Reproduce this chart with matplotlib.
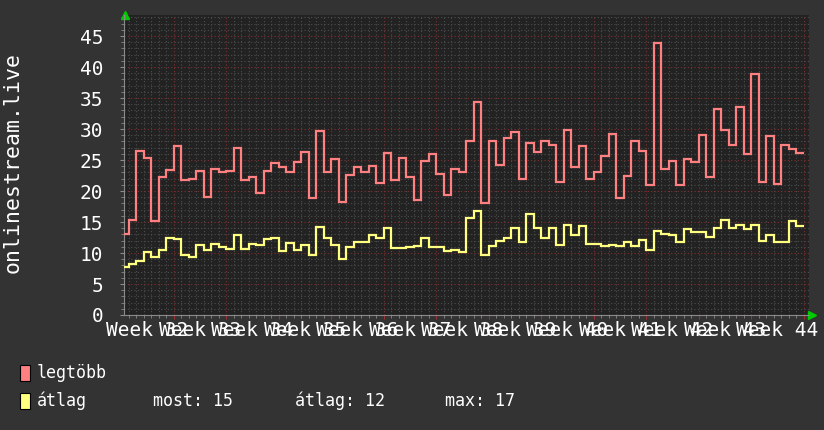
import numpy as np
import matplotlib
matplotlib.use("Agg")
import matplotlib.pyplot as plt
from matplotlib.ticker import MultipleLocator, FixedLocator

# daily values, first one is a partial day at the left edge
legtobb = [13.0, 15.4, 26.5, 25.4, 15.2, 22.2, 23.4, 27.3, 21.7, 22.0, 23.3, 19.1, 23.6, 23.0, 23.2, 27.0,
           21.7, 22.3, 19.7, 23.3, 24.6, 23.8, 23.0, 24.7, 26.3, 18.9, 29.7, 23.1, 25.2, 18.3, 22.6, 23.8,
           23.0, 24.1, 21.3, 26.2, 21.8, 25.4, 22.3, 18.5, 24.9, 25.9, 22.8, 19.4, 23.6, 23.0, 28.1,
           34.4, 18.1, 28.0, 24.2, 28.6, 29.6, 21.9, 27.8, 26.3, 28.0, 27.5, 21.5, 29.8, 23.9, 27.3,
           21.9, 23.1, 25.7, 29.2, 18.9, 22.4, 28.0, 26.5, 21.0, 43.9, 23.6, 24.9, 21.0, 25.1, 24.7,
           29.1, 22.2, 33.3, 29.9, 27.5, 33.6, 25.9, 38.9, 21.4, 28.8, 21.2, 27.5, 26.8, 26.2]
atlag = [7.8, 8.2, 8.7, 10.1, 9.4, 10.5, 12.5, 12.3, 9.7, 9.4, 11.3, 10.5, 11.5, 11.0, 10.7, 12.9,
         10.6, 11.5, 11.3, 12.2, 12.4, 10.3, 11.6, 10.5, 11.3, 9.6, 14.2, 12.4, 11.3, 9.0, 10.9, 11.7,
         11.8, 12.9, 12.4, 14.1, 10.8, 10.8, 11.0, 11.2, 12.5, 10.9, 11.0, 10.3, 10.5, 10.2, 15.7,
         16.7, 9.7, 11.2, 12.0, 12.4, 14.1, 11.7, 16.3, 14.1, 12.4, 14.0, 11.3, 14.5, 12.9, 14.4,
         11.4, 11.4, 11.2, 11.3, 11.2, 11.7, 11.2, 12.1, 10.5, 13.5, 13.1, 12.9, 11.8, 13.8, 13.4,
         13.4, 12.6, 14.1, 15.4, 14.1, 14.5, 13.8, 14.6, 12.0, 12.9, 11.7, 11.7, 15.1, 14.4]
weeks = list(range(32, 45))
y_label = "onlinestream.live"
legend_rows = [("legtöbb", ""), ("átlag", "")]
stats = {"most": 15, "átlag": 12, "max": 17}

RED = "#ff8080"
YEL = "#ffff80"
BACK = "#333333"
CANVAS = "#222222"
MONO = "DejaVu Sans Mono"

fig = plt.figure(figsize=(8.24, 4.30), dpi=100, facecolor=BACK)
ax = fig.add_axes([124 / 824, 115 / 430, 685 / 824, 300 / 430], facecolor=CANVAS)

n = len(legtobb)
edges = np.concatenate([[-0.6], np.arange(n)])
ax.stairs(legtobb, edges, baseline=None, color=RED, lw=1.6, zorder=3)
ax.stairs(atlag, edges, baseline=None, color=YEL, lw=1.6, zorder=3)

ax.set_xlim(-0.6, 90.73)
ax.set_ylim(0, 48.4)

week_lines = [6 + 7 * k for k in range(len(weeks))]
ax.xaxis.set_major_locator(FixedLocator(week_lines))
ax.xaxis.set_minor_locator(MultipleLocator(1))
ax.yaxis.set_major_locator(MultipleLocator(5))
ax.yaxis.set_minor_locator(MultipleLocator(1))
ax.set_xticklabels([])

ax.grid(which="minor", color="#4e4e4e", linestyle=(0, (1, 2)), lw=0.8)
ax.grid(which="major", color="#803030", linestyle=(0, (1, 2)), lw=0.8)
ax.set_axisbelow(True)

for s in ["top", "right"]:
    ax.spines[s].set_visible(False)
for s in ["left", "bottom"]:
    ax.spines[s].set_color("#8a8a8a")
    ax.spines[s].set_linewidth(0.8)

ax.tick_params(axis="y", which="major", colors="#8a8a8a", length=3, pad=12,
               labelcolor="white", labelsize=14)
ax.tick_params(axis="both", which="minor", colors="#8a8a8a", length=2)
ax.tick_params(axis="x", which="major", colors="#a03030", length=3)
for lbl in ax.get_yticklabels():
    lbl.set_family(MONO)

# week labels, centred in each week (they overlap like in the original)
trans = ax.get_xaxis_transform()
for k, w in enumerate(weeks):
    ax.text(week_lines[k] - 3.5, -0.02, f"Week {w}", transform=trans, ha="center", va="top",
            color="white", fontsize=14, family=MONO, clip_on=False)

# green arrow heads
ax.plot([0.001], [1.0], marker="^", color="#00cc00", ms=6, transform=ax.transAxes, clip_on=False)
ax.plot([1.005], [0.0], marker=">", color="#00cc00", ms=6, transform=ax.transAxes, clip_on=False)

fig.text(13 / 824, 1 - 163 / 430, y_label, rotation=90, ha="center", va="center",
         color="white", fontsize=15.5, family=MONO)

# legend
for i, (name, col) in enumerate(zip(["legtöbb", "átlag"], [RED, YEL])):
    ytop = 365 + i * 28
    fig.patches.append(plt.Rectangle((20 / 824, 1 - (ytop + 16) / 430), 10 / 824, 16 / 430,
                                     transform=fig.transFigure, facecolor=col, edgecolor="black", lw=0.8))
    fig.text(37 / 824, 1 - (ytop + 8) / 430, name, ha="left", va="center", color="white",
             fontsize=12, family=MONO)

for x, key in [(153, "most"), (295, "átlag"), (445, "max")]:
    fig.text(x / 824, 1 - 401 / 430, f"{key}: {stats[key]}", ha="left", va="center",
             color="white", fontsize=12, family=MONO)

fig.savefig("out.png", dpi=100, facecolor=BACK)
